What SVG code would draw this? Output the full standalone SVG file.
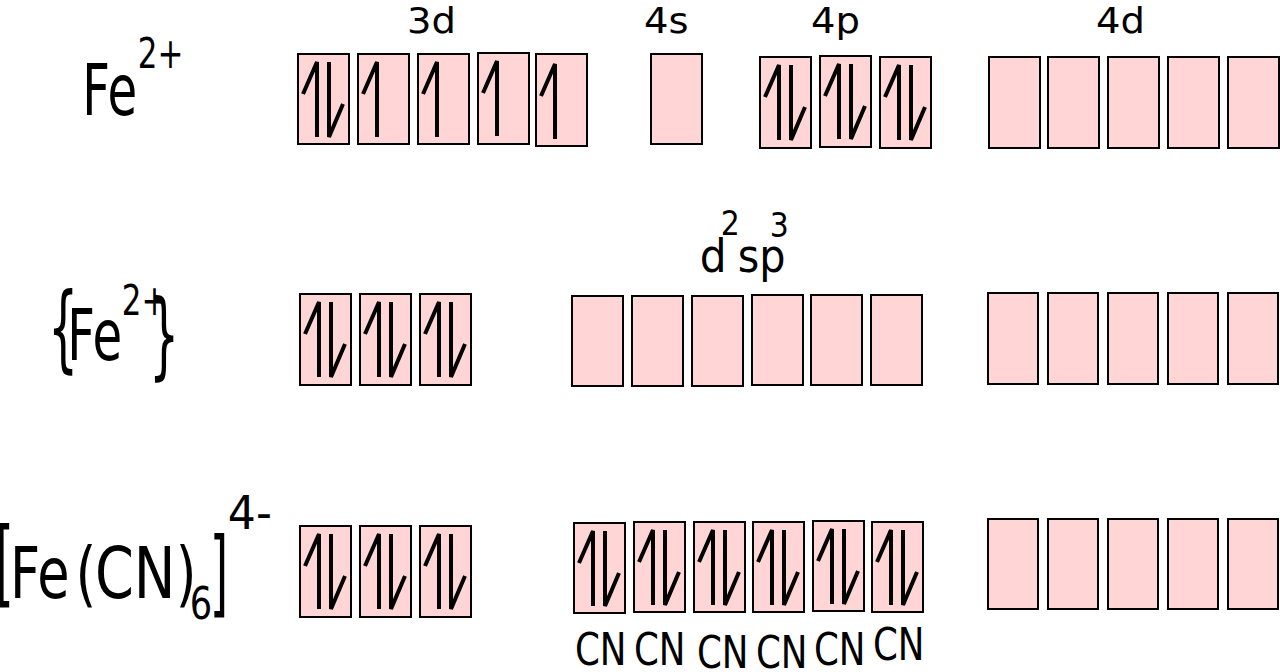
<svg xmlns="http://www.w3.org/2000/svg" xmlns:xlink="http://www.w3.org/1999/xlink" width="1280" height="672" viewBox="0 0 1280 672">
<style>
.bx{fill:#ffd5d5;stroke:#000;stroke-width:2}
.ar{fill:none;stroke:#000;stroke-width:4}
text{font-family:"DejaVu Sans","Liberation Sans",sans-serif;fill:#000}
.lbl{font-size:35px}
.big{font-size:71px}
.sup{font-size:43px}
.br{font-size:95px}
.cn{font-size:44px}
.hy{font-size:47px}
.hs{font-size:34px}
</style>
<defs>
<path id="up" class="ar" d="M19 83 V8 L5 40"/>
<path id="dn" class="ar" d="M31 8 V83 L45 50"/>
<g id="pair"><use href="#up"/><use href="#dn"/></g>
</defs>
<rect width="1280" height="672" fill="#fff"/>

<g id="labels-top">
<text class="lbl" transform="translate(407 33) scale(1.1 1)">3d</text>
<text class="lbl" transform="translate(644 33) scale(1.1 1)">4s</text>
<text class="lbl" transform="translate(811 33) scale(1.1 1)">4p</text>
<text class="lbl" transform="translate(1096 33) scale(1.1 1)">4d</text>
</g>

<g id="label-fe2">
<text class="big" transform="translate(82.3 115) scale(0.68 1)">Fe</text>
<text class="sup" transform="translate(137.7 68) scale(0.72 1)">2+</text>
</g>

<g id="label-fe2-brace">
<text class="br" transform="translate(48 360) scale(0.5 1)">{</text>
<text class="big" transform="translate(67.3 360) scale(0.68 1)">Fe</text>
<text class="sup" transform="translate(121.7 315) scale(0.72 1)">2+</text>
<text class="br" transform="translate(149 367) scale(0.5 1)">}</text>
</g>

<g id="label-complex">
<text class="br" transform="translate(-4.7 595) scale(0.5 1)">[</text>
<text class="big" transform="translate(9.9 598) scale(0.74 1)">Fe</text>
<text class="big" transform="translate(75.4 598) scale(0.75 1)">(</text>
<text class="big" transform="translate(94.9 598) scale(0.785 1)">CN</text>
<text class="big" transform="translate(175.7 598) scale(0.75 1)">)</text>
<text class="cn" transform="translate(189.7 619) scale(0.8 1)">6</text>
<text class="br" transform="translate(209.8 605) scale(0.5 1)">]</text>
<text class="hy" transform="translate(227.8 529) scale(0.94 1)">4-</text>
</g>

<g id="label-d2sp3">
<text class="hy" transform="translate(699.7 272) scale(0.9 1)">d</text>
<text class="hs" transform="translate(720.8 235) scale(0.88 1)">2</text>
<text class="hy" transform="translate(737.8 272) scale(0.88 1)">sp</text>
<text class="hs" transform="translate(769.7 237) scale(0.88 1)">3</text>
</g>

<g id="row1-3d">
<rect class="bx" x="298" y="54" width="51" height="90"/>
<rect class="bx" x="358" y="54" width="51" height="90"/>
<rect class="bx" x="418" y="54" width="51" height="90"/>
<rect class="bx" x="478" y="53" width="51" height="91"/>
<rect class="bx" x="536" y="54" width="51" height="92"/>
<use href="#pair" x="298" y="54"/>
<use href="#up" x="358" y="54"/>
<use href="#up" x="418" y="54"/>
<use href="#up" x="478" y="53"/>
<use href="#up" x="536" y="56"/>
</g>
<g id="row1-4s">
<rect class="bx" x="651" y="54" width="51" height="90"/>
</g>
<g id="row1-4p">
<rect class="bx" x="760" y="57" width="51" height="91"/>
<rect class="bx" x="820" y="56" width="51" height="91"/>
<rect class="bx" x="880" y="57" width="51" height="91"/>
<use href="#pair" x="760" y="57"/>
<use href="#pair" x="820" y="56"/>
<use href="#pair" x="880" y="57"/>
</g>
<g id="row1-4d">
<rect class="bx" x="989" y="57" width="51" height="91"/>
<rect class="bx" x="1048" y="57" width="51" height="91"/>
<rect class="bx" x="1108" y="57" width="51" height="91"/>
<rect class="bx" x="1168" y="57" width="51" height="91"/>
<rect class="bx" x="1228" y="57" width="51" height="91"/>
</g>

<g id="row2-3d">
<rect class="bx" x="300" y="294" width="51" height="91"/>
<rect class="bx" x="360" y="294" width="51" height="91"/>
<rect class="bx" x="420" y="294" width="51" height="91"/>
<use href="#pair" x="300" y="294"/>
<use href="#pair" x="360" y="294"/>
<use href="#pair" x="420" y="294"/>
</g>
<g id="row2-d2sp3">
<rect class="bx" x="572" y="296" width="51" height="90"/>
<rect class="bx" x="632" y="296" width="51" height="90"/>
<rect class="bx" x="692" y="296" width="51" height="90"/>
<rect class="bx" x="752" y="295" width="51" height="90"/>
<rect class="bx" x="811" y="295" width="51" height="90"/>
<rect class="bx" x="871" y="295" width="51" height="90"/>
</g>
<g id="row2-4d">
<rect class="bx" x="988" y="293" width="50" height="91"/>
<rect class="bx" x="1048" y="293" width="50" height="91"/>
<rect class="bx" x="1108" y="293" width="50" height="91"/>
<rect class="bx" x="1168" y="293" width="50" height="91"/>
<rect class="bx" x="1228" y="293" width="50" height="91"/>
</g>

<g id="row3-3d">
<rect class="bx" x="300" y="526" width="51" height="91"/>
<rect class="bx" x="360" y="526" width="51" height="91"/>
<rect class="bx" x="420" y="526" width="51" height="91"/>
<use href="#pair" x="300" y="526"/>
<use href="#pair" x="360" y="526"/>
<use href="#pair" x="420" y="526"/>
</g>
<g id="row3-d2sp3">
<rect class="bx" x="574" y="523" width="51" height="90"/>
<rect class="bx" x="634" y="522" width="51" height="90"/>
<rect class="bx" x="694" y="522" width="51" height="90"/>
<rect class="bx" x="753" y="522" width="51" height="90"/>
<rect class="bx" x="813" y="521" width="51" height="90"/>
<rect class="bx" x="872" y="522" width="51" height="90"/>
<use href="#pair" x="574" y="523"/>
<use href="#pair" x="634" y="522"/>
<use href="#pair" x="694" y="522"/>
<use href="#pair" x="753" y="522"/>
<use href="#pair" x="813" y="521"/>
<use href="#pair" x="872" y="522"/>
</g>
<g id="row3-4d">
<rect class="bx" x="988" y="519" width="50" height="90"/>
<rect class="bx" x="1048" y="519" width="50" height="90"/>
<rect class="bx" x="1108" y="519" width="50" height="90"/>
<rect class="bx" x="1168" y="519" width="50" height="90"/>
<rect class="bx" x="1228" y="519" width="50" height="90"/>
</g>

<g id="cn-labels">
<text class="cn" transform="translate(575 665) scale(0.81 1)">CN</text>
<text class="cn" transform="translate(634 665) scale(0.81 1)">CN</text>
<text class="cn" transform="translate(697 668) scale(0.81 1)">CN</text>
<text class="cn" transform="translate(756 668) scale(0.81 1)">CN</text>
<text class="cn" transform="translate(814 665) scale(0.81 1)">CN</text>
<text class="cn" transform="translate(873 660) scale(0.81 1)">CN</text>
</g>
</svg>
